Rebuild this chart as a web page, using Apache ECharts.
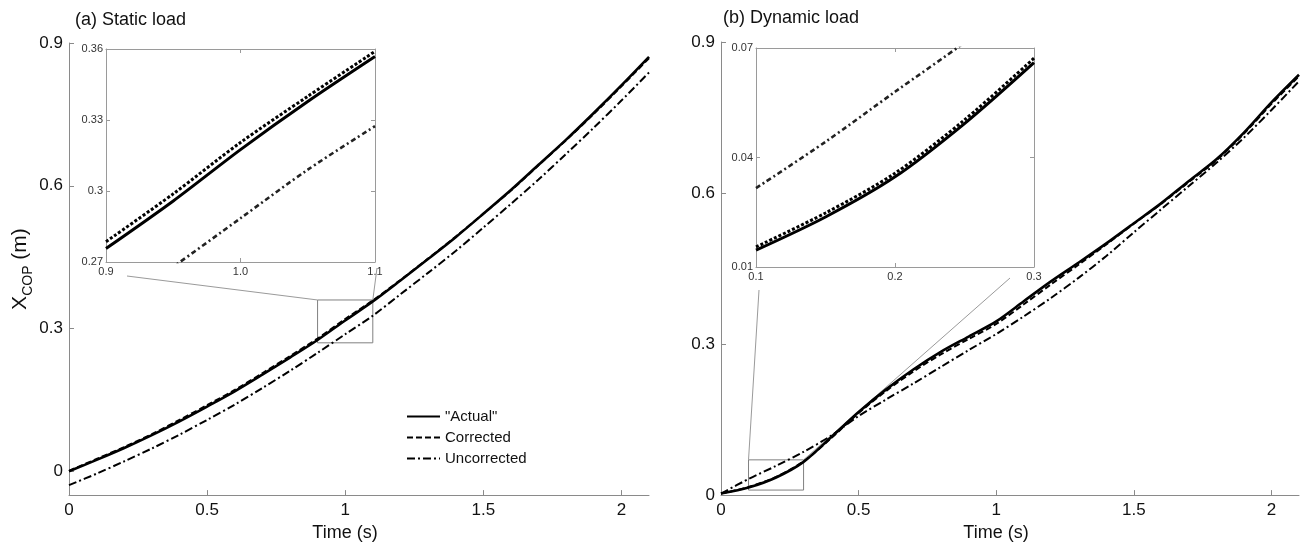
<!DOCTYPE html>
<html>
<head>
<meta charset="utf-8">
<script src="https://cdn.jsdelivr.net/npm/echarts@6/dist/echarts.min.js"></script>
<style>
  html, body { margin: 0; padding: 0; background: #fff; }
  #chart { width: 1309px; height: 547px; }
</style>
</head>
<body>
<div id="chart"></div>
<script>
// time axis (s), shared by both panels
var times = [0, 0.1, 0.2, 0.3, 0.4, 0.5, 0.6, 0.7, 0.8, 0.9, 1.0, 1.1, 1.2, 1.3, 1.4, 1.5, 1.6, 1.7, 1.8, 1.9, 2.0, 2.1];

// (a) static load
var staticActual      = [0, 0.024, 0.049, 0.076, 0.105, 0.136, 0.168, 0.203, 0.239, 0.276, 0.317, 0.357, 0.401, 0.446, 0.492, 0.541, 0.591, 0.644, 0.697, 0.753, 0.811, 0.871];
var staticCorrected   = [0.001, 0.026, 0.051, 0.078, 0.108, 0.139, 0.171, 0.206, 0.242, 0.279, 0.320, 0.359, 0.402, 0.447, 0.493, 0.541, 0.590, 0.643, 0.696, 0.751, 0.809, 0.868];
var staticUncorrected = [-0.029, -0.005, 0.021, 0.048, 0.077, 0.108, 0.140, 0.175, 0.211, 0.249, 0.288, 0.327, 0.372, 0.417, 0.463, 0.512, 0.562, 0.613, 0.667, 0.722, 0.779, 0.838];

// (b) dynamic load
var dynamicActual      = [0.003, 0.015, 0.035, 0.066, 0.115, 0.165, 0.210, 0.250, 0.285, 0.315, 0.345, 0.385, 0.425, 0.462, 0.500, 0.540, 0.580, 0.624, 0.667, 0.720, 0.780, 0.835];
var dynamicCorrected   = [0.003, 0.016, 0.036, 0.067, 0.113, 0.163, 0.207, 0.246, 0.280, 0.310, 0.340, 0.379, 0.419, 0.458, 0.498, 0.539, 0.579, 0.622, 0.665, 0.718, 0.777, 0.832];
var dynamicUncorrected = [0.003, 0.032, 0.058, 0.086, 0.118, 0.157, 0.190, 0.222, 0.255, 0.288, 0.320, 0.355, 0.392, 0.432, 0.475, 0.522, 0.568, 0.614, 0.660, 0.710, 0.765, 0.822];

// insets
var insetStaticTimes       = [0.9, 0.95, 1.0, 1.05, 1.1];
var insetStaticActual      = [0.2757, 0.2958, 0.3175, 0.3378, 0.3568];
var insetStaticCorrected   = [0.2786, 0.2988, 0.3205, 0.3400, 0.3590];
var insetStaticUncorrected = [0.2486, 0.2680, 0.2885, 0.3090, 0.3274];

var insetDynamicTimes       = [0.1, 0.15, 0.2, 0.25, 0.3];
var insetDynamicActual      = [0.0146, 0.0237, 0.0347, 0.0493, 0.0660];
var insetDynamicCorrected   = [0.0155, 0.0248, 0.0357, 0.0503, 0.0672];
var insetDynamicUncorrected = [0.0316, 0.0443, 0.0580, 0.0715, 0.0860];

// tick values
var mainXTicks = [0, 0.5, 1, 1.5, 2];
var mainYTicks = [0, 0.3, 0.6, 0.9];
var insetStaticXTicks = [0.9, 1.0, 1.1];
var insetStaticYTicks = [0.27, 0.30, 0.33, 0.36];
var insetDynamicXTicks = [0.1, 0.2, 0.3];
var insetDynamicYTicks = [0.01, 0.04, 0.07];

var seriesNames = ['"Actual"', 'Corrected', 'Uncorrected'];

function pairs(xs, ys) {
    return xs.map(function (x, i) { return [x, ys[i]]; });
}

var FONT = 'Liberation Sans, Arial, sans-serif';
var AXIS_GRAY = '#8a8a8a';

var styles = {
    actual: { color: '#000', width: 2.6, type: 'solid' },
    corrected: { color: '#000', width: 2, type: [6, 3] },
    uncorrected: { color: '#000', width: 2, type: [8, 3, 2, 3] }
};
var insetStyles = {
    actual: { color: '#000', width: 3, type: 'solid' },
    corrected: { color: '#000', width: 3, type: [3, 2] },
    uncorrected: { color: '#222', width: 2.6, type: [5, 3, 2, 3] }
};

function mainX(gridIndex) {
    return {
        type: 'value', gridIndex: gridIndex, min: 0, max: 2.1,
        name: 'Time (s)', nameLocation: 'middle', nameGap: 21,
        nameTextStyle: { fontFamily: FONT, fontSize: 18, color: '#111', padding: [0, 28, 0, 0] },
        splitLine: { show: false },
        axisLine: { onZero: false, lineStyle: { color: AXIS_GRAY, width: 1 } },
        axisTick: { inside: true, length: 5, lineStyle: { color: AXIS_GRAY }, customValues: mainXTicks },
        axisLabel: { customValues: mainXTicks, fontFamily: FONT, fontSize: 17, color: '#111', margin: 7 }
    };
}
function mainY(gridIndex, min, withName) {
    var ax = {
        type: 'value', gridIndex: gridIndex, min: min, max: 0.9,
        splitLine: { show: false },
        axisLine: { show: true, onZero: false, lineStyle: { color: AXIS_GRAY, width: 1 } },
        axisTick: { show: true, inside: true, length: 5, lineStyle: { color: AXIS_GRAY }, customValues: mainYTicks },
        axisLabel: { customValues: mainYTicks, fontFamily: FONT, fontSize: 17, color: '#111', margin: 6 }
    };
    if (withName) {
        ax.name = '{x|X}{s|COP}{x| (m)}';
        ax.nameLocation = 'middle';
        ax.nameRotate = 90;
        ax.nameGap = 33;
        ax.nameTextStyle = {
            fontFamily: FONT, color: '#111',
            rich: {
                x: { fontFamily: FONT, fontSize: 21, lineHeight: 30, color: '#111' },
                s: { fontFamily: FONT, fontSize: 14, lineHeight: 15, verticalAlign: 'bottom', color: '#111' }
            }
        };
    }
    return ax;
}
function insetX(gridIndex, range, ticks, top) {
    return {
        type: 'value', gridIndex: gridIndex, min: range[0], max: range[1], position: top ? 'top' : 'bottom',
        splitLine: { show: false },
        axisLine: { onZero: false, lineStyle: { color: '#9a9a9a', width: 1 } },
        axisTick: { inside: true, length: 4, lineStyle: { color: '#9a9a9a' }, customValues: ticks },
        axisLabel: {
            show: !top, customValues: ticks, fontFamily: FONT, fontSize: 11, color: '#333', margin: 4,
            formatter: function (v) { return v.toFixed(1); }
        }
    };
}
function insetY(gridIndex, range, ticks, right) {
    return {
        type: 'value', gridIndex: gridIndex, min: range[0], max: range[1], position: right ? 'right' : 'left',
        splitLine: { show: false },
        axisLine: { show: true, onZero: false, lineStyle: { color: '#9a9a9a', width: 1 } },
        axisTick: { show: true, inside: true, length: 4, lineStyle: { color: '#9a9a9a' }, customValues: ticks },
        axisLabel: { show: !right, customValues: ticks, fontFamily: FONT, fontSize: 11, color: '#333', margin: 3 }
    };
}

function lineSeries(name, xi, yi, data, style, extra) {
    var s = {
        name: name, type: 'line', xAxisIndex: xi, yAxisIndex: yi,
        data: data, symbol: 'none', smooth: 0.3, silent: true,
        lineStyle: style, itemStyle: { color: style.color },
        emphasis: { disabled: true }
    };
    if (extra) { for (var k in extra) s[k] = extra[k]; }
    return s;
}
function zoomBox(xr, yr) {
    return {
        silent: true,
        itemStyle: { color: 'rgba(0,0,0,0)', borderColor: '#808080', borderWidth: 1 },
        data: [[{ coord: [xr[0], yr[0]] }, { coord: [xr[1], yr[1]] }]]
    };
}

var staticRangeX = [insetStaticXTicks[0], insetStaticXTicks[insetStaticXTicks.length - 1]];
var staticRangeY = [insetStaticYTicks[0], insetStaticYTicks[insetStaticYTicks.length - 1]];
var dynamicRangeX = [insetDynamicXTicks[0], insetDynamicXTicks[insetDynamicXTicks.length - 1]];
var dynamicRangeY = [insetDynamicYTicks[0], insetDynamicYTicks[insetDynamicYTicks.length - 1]];

var chart = echarts.init(document.getElementById('chart'));
var option = {
    animation: false,
    backgroundColor: '#fff',
    title: [
        { text: '(a) Static load', left: 70, top: 6, textStyle: { fontFamily: FONT, fontSize: 18, fontWeight: 'normal', color: '#111' } },
        { text: '(b) Dynamic load', left: 718, top: 4, textStyle: { fontFamily: FONT, fontSize: 18, fontWeight: 'normal', color: '#111' } }
    ],
    legend: {
        data: seriesNames, orient: 'vertical', left: 401, top: 404,
        itemWidth: 33, itemHeight: 14, itemGap: 6,
        itemStyle: { opacity: 0 },
        textStyle: { fontFamily: FONT, fontSize: 15, color: '#111' },
        selectedMode: false
    },
    grid: [
        { left: 69, top: 43, width: 580, height: 456 },
        { left: 721, top: 42, width: 578, height: 456 },
        { left: 106, top: 49, width: 269, height: 213 },
        { left: 756, top: 48, width: 278, height: 219 }
    ],
    xAxis: [
        mainX(0), mainX(1),
        insetX(2, staticRangeX, insetStaticXTicks, false),
        insetX(3, dynamicRangeX, insetDynamicXTicks, false),
        insetX(2, staticRangeX, insetStaticXTicks, true),
        insetX(3, dynamicRangeX, insetDynamicXTicks, true)
    ],
    yAxis: [
        mainY(0, -0.05, true), mainY(1, 0, false),
        insetY(2, staticRangeY, insetStaticYTicks, false),
        insetY(3, dynamicRangeY, insetDynamicYTicks, false),
        insetY(2, staticRangeY, insetStaticYTicks, true),
        insetY(3, dynamicRangeY, insetDynamicYTicks, true)
    ],
    series: [
        // (a) main
        lineSeries(seriesNames[2], 0, 0, pairs(times, staticUncorrected), styles.uncorrected),
        lineSeries(seriesNames[1], 0, 0, pairs(times, staticCorrected), styles.corrected),
        lineSeries(seriesNames[0], 0, 0, pairs(times, staticActual), styles.actual,
            { markArea: zoomBox(staticRangeX, staticRangeY) }),
        // (b) main
        lineSeries(seriesNames[2], 1, 1, pairs(times, dynamicUncorrected), styles.uncorrected),
        lineSeries(seriesNames[1], 1, 1, pairs(times, dynamicCorrected), styles.corrected),
        lineSeries(seriesNames[0], 1, 1, pairs(times, dynamicActual), styles.actual,
            { markArea: zoomBox(dynamicRangeX, dynamicRangeY) }),
        // (a) inset
        lineSeries(seriesNames[2], 2, 2, pairs(insetStaticTimes, insetStaticUncorrected), insetStyles.uncorrected),
        lineSeries(seriesNames[0], 2, 2, pairs(insetStaticTimes, insetStaticActual), insetStyles.actual),
        lineSeries(seriesNames[1], 2, 2, pairs(insetStaticTimes, insetStaticCorrected), insetStyles.corrected),
        // (b) inset
        lineSeries(seriesNames[2], 3, 3, pairs(insetDynamicTimes, insetDynamicUncorrected), insetStyles.uncorrected),
        lineSeries(seriesNames[0], 3, 3, pairs(insetDynamicTimes, insetDynamicActual), insetStyles.actual),
        lineSeries(seriesNames[1], 3, 3, pairs(insetDynamicTimes, insetDynamicCorrected), insetStyles.corrected)
    ]
};
chart.setOption(option);

// thin grey leader lines from each inset to its zoom box
function leader(fromGrid, fromPt, dx, dy, toGrid, toPt) {
    var a = chart.convertToPixel({ gridIndex: fromGrid }, fromPt);
    var b = chart.convertToPixel({ gridIndex: toGrid }, toPt);
    return {
        type: 'line', silent: true, z: 1,
        shape: { x1: a[0] + dx, y1: a[1] + dy, x2: b[0], y2: b[1] },
        style: { stroke: '#9a9a9a', lineWidth: 1 }
    };
}
chart.setOption({
    graphic: [
        leader(2, [staticRangeX[0], staticRangeY[0]], 21, 14, 0, [staticRangeX[0], staticRangeY[1]]),
        leader(2, [staticRangeX[1], staticRangeY[0]], 2, 6, 0, [staticRangeX[1], staticRangeY[1]]),
        leader(3, [dynamicRangeX[0], dynamicRangeY[0]], 3, 23, 1, [dynamicRangeX[0], dynamicRangeY[1]]),
        leader(3, [dynamicRangeX[1], dynamicRangeY[0]], -24, 11, 1, [dynamicRangeX[1], dynamicRangeY[1]])
    ]
});
</script>
</body>
</html>
